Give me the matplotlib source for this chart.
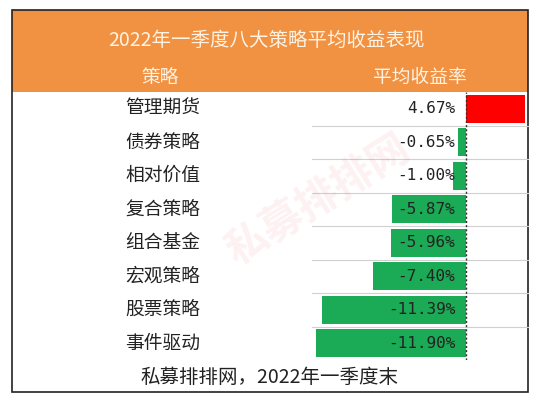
import matplotlib
matplotlib.use("Agg")
import matplotlib.pyplot as plt
from matplotlib.patches import Rectangle

plt.rcParams['font.family'] = ['Noto Sans CJK SC', 'DejaVu Sans']

title = "2022年一季度八大策略平均收益表现"
col_names = ["策略", "平均收益率"]
strategies = ["管理期货", "债券策略", "相对价值", "复合策略",
              "组合基金", "宏观策略", "股票策略", "事件驱动"]
returns = [4.67, -0.65, -1.00, -5.87, -5.96, -7.40, -11.39, -11.90]
footer = "私募排排网，2022年一季度末"

W, H = 535, 396
orange = "#F19142"
green = "#1BAA55"
red = "#FF0000"

fig = plt.figure(figsize=(W / 100, H / 100), dpi=100)
base = fig.add_axes([0, 0, 1, 1])
base.set_xlim(0, W)
base.set_ylim(H, 0)
base.axis("off")

# table frame
left, right, top, bottom = 12, 528, 10, 392
head_bottom = 92
row_h = 33.5
n = len(strategies)
body_bottom = head_bottom + row_h * n

base.add_patch(Rectangle((left, top), right - left, head_bottom - top,
                         facecolor=orange, edgecolor="none"))
base.add_patch(Rectangle((left, top), right - left, bottom - top,
                         facecolor="none", edgecolor="#222222", lw=1.2))

base.text(266, 40, title, ha="center", va="center",
          fontsize=14, color="#FFF3E3")
base.text(160, 77, col_names[0], ha="center", va="center",
          fontsize=13.5, color="#FFF3E3")
base.text(420, 77, col_names[1], ha="center", va="center",
          fontsize=13.5, color="#FFF3E3")

bar_left, bar_right = 312, 528
for i, name in enumerate(strategies):
    yc = head_bottom + row_h * (i + 0.5)
    base.text(163, yc, name, ha="center", va="center", fontsize=13.5, color="#222222")
    if i > 0:
        yb = head_bottom + row_h * i
        base.plot([bar_left, bar_right], [yb, yb], color="#d0d0d0", lw=0.8)

base.text(270, 377, footer, ha="center", va="center", fontsize=14, color="#222222")

# watermark
base.text(318, 200, "私募排排网", ha="center", va="center", fontsize=30,
          color="#E8505B", alpha=0.08, rotation=32, fontweight="bold")

# data bars
bx = fig.add_axes([bar_left / W, (H - body_bottom) / H,
                   (bar_right - bar_left) / W, (body_bottom - head_bottom) / H])
bx.set_xlim(-12.22, 4.92)
bx.set_ylim(n, 0)
bx.axis("off")
bx.patch.set_alpha(0)
ypos = [i + 0.5 for i in range(n)]
colors = [red if v > 0 else green for v in returns]
bx.barh(ypos, returns, height=0.84, color=colors, zorder=1)
bx.axvline(0, color="#333333", lw=1.0, ls=(0, (1.5, 1.5)), zorder=2)
for y, v in zip(ypos, returns):
    bx.text(-0.85, y, "{:.2f}%".format(v), ha="right", va="center",
            fontsize=11.5, family="DejaVu Sans Mono", color="#222222", zorder=3)

fig.savefig("out.png", dpi=100)
